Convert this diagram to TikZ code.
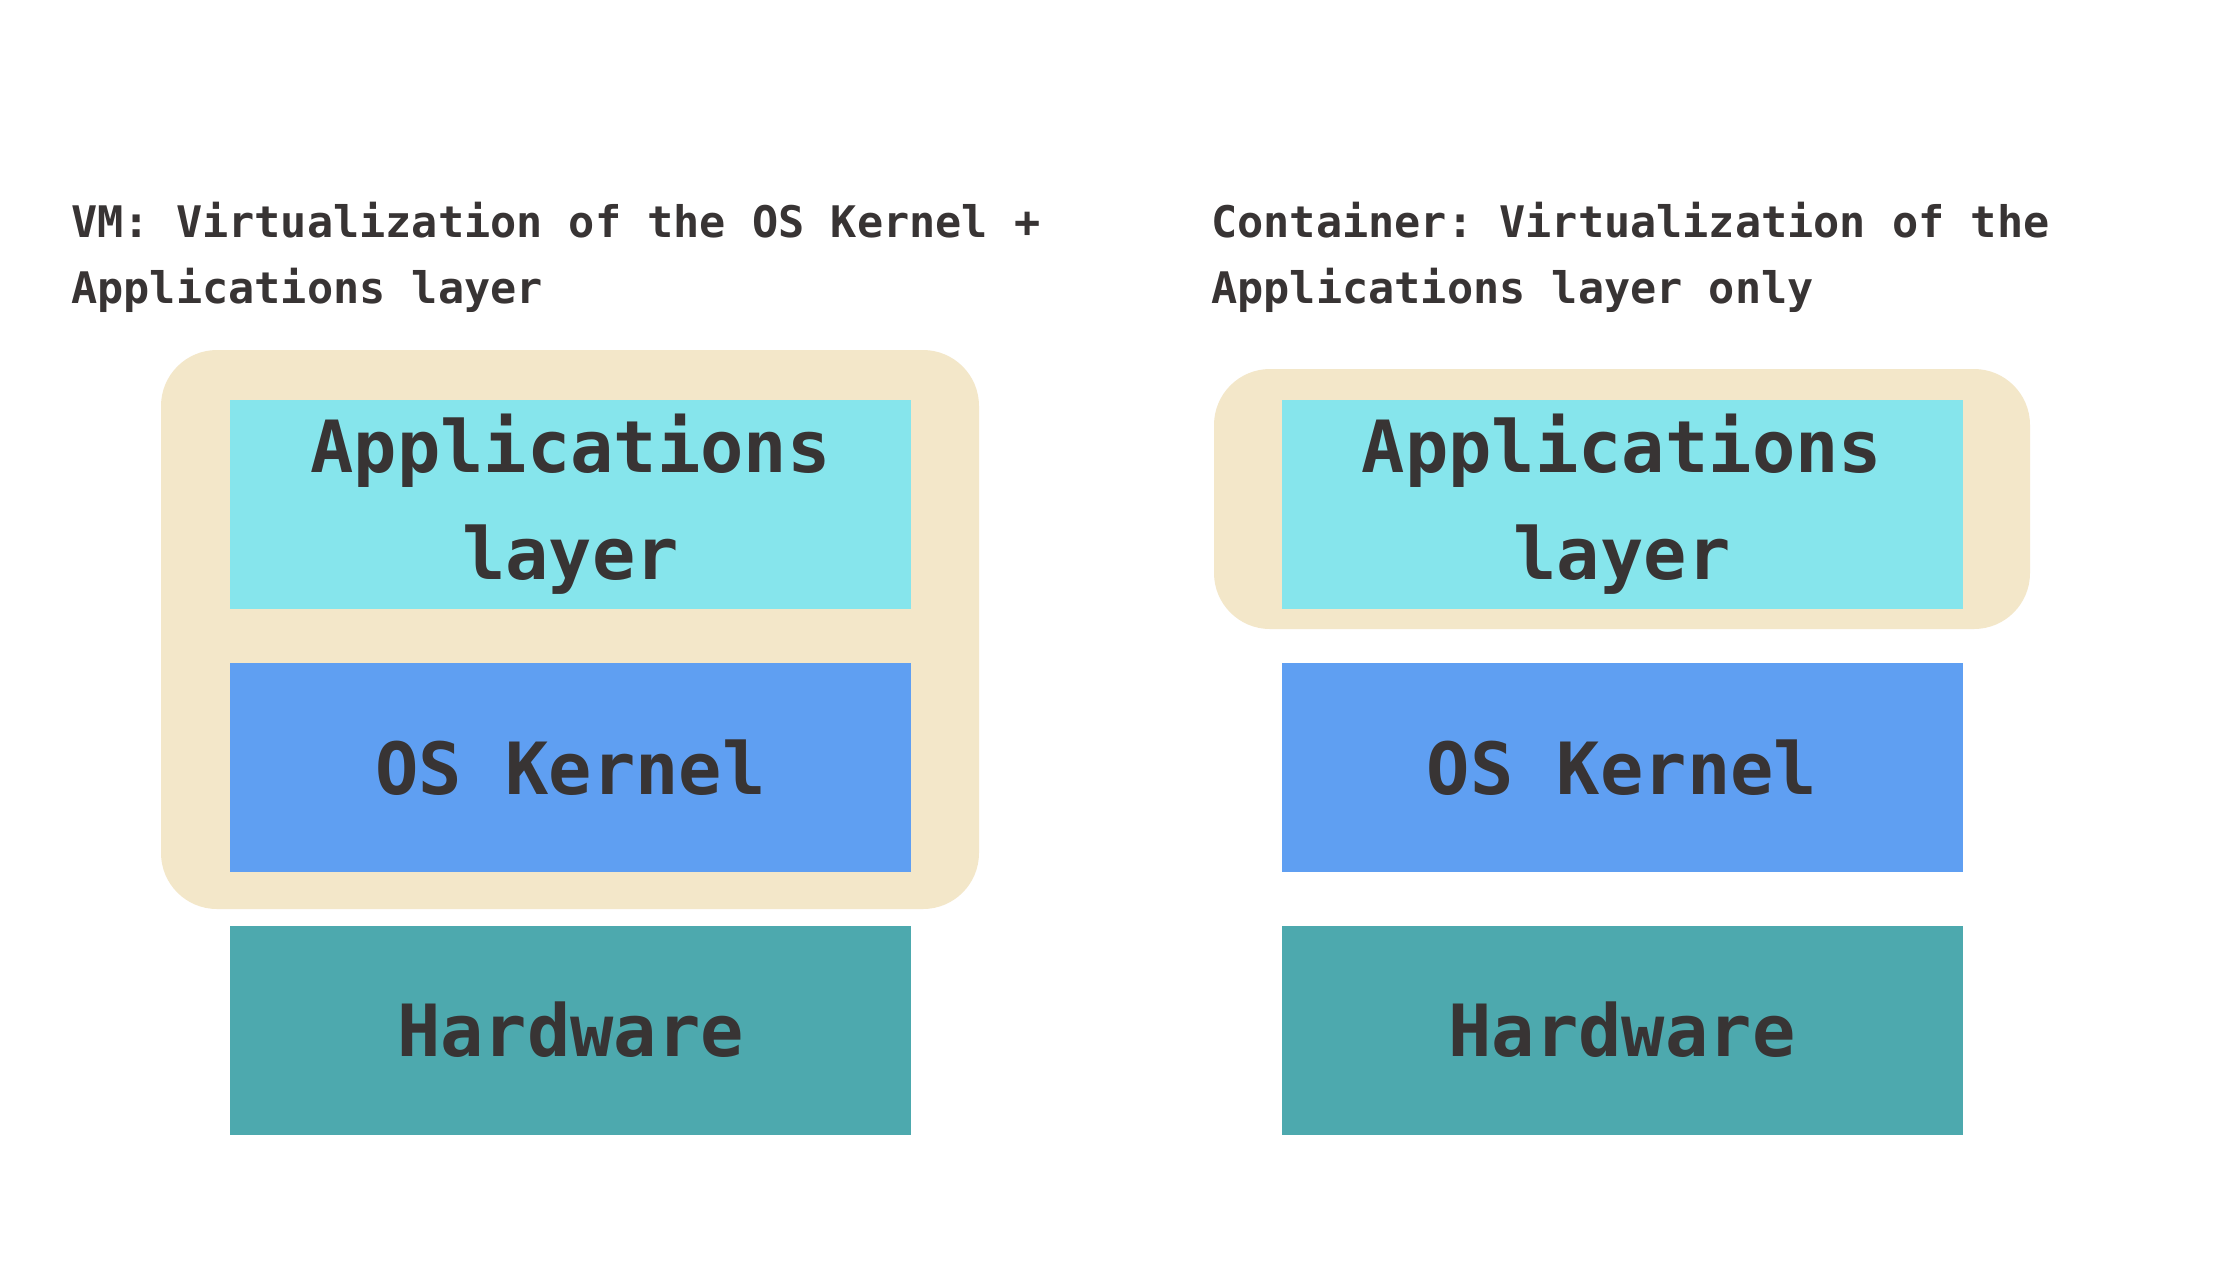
\documentclass[tikz,border=0pt]{standalone}
\usepackage{fontspec}
\setmonofont{DejaVu Sans Mono}
\usetikzlibrary{positioning}
\definecolor{shellbeige}{HTML}{F3E7C9}
\definecolor{appcyan}{HTML}{86E5EC}
\definecolor{kernelblue}{HTML}{5F9FF2}
\definecolor{hwteal}{HTML}{4DA9AE}
\definecolor{inkgray}{HTML}{383434}
\begin{document}
\begin{tikzpicture}[x=0.5pt, y=-0.5pt,
  layer/.style={minimum width=340.5pt, minimum height=104.5pt, inner sep=0pt,
    text=inkgray, align=center, font=\ttfamily\bfseries\fontsize{36}{53.5}\selectfont},
  caption/.style={anchor=base west, inner sep=0pt, text=inkgray, align=left,
    font=\ttfamily\bfseries\fontsize{21.75}{33}\selectfont}]
  \useasboundingbox[fill=white] (0,0) rectangle (2240,1260);

  % VM: the beige shell wraps kernel and applications
  \fill[shellbeige, rounded corners=28pt] (161,350) rectangle (979,909);
  \node[layer, fill=appcyan] (vmapp) at (570.5,504.5) {Applications\\layer};
  \node[layer, fill=kernelblue, below=26.5pt of vmapp] (vmkernel) {OS Kernel};
  \node[layer, fill=hwteal, below=26.5pt of vmkernel] (vmhw) {Hardware};
  % base anchor sits on the last line
  \node[caption] (vmtitle) at (71,303) {VM: Virtualization of the OS Kernel +\\Applications layer};

  % Container: the shell wraps the applications only
  \fill[shellbeige, rounded corners=28pt] (1214,369) rectangle (2030,629);
  \node[layer, fill=appcyan] (ctapp) at (1622,504.5) {Applications\\layer};
  \node[layer, fill=kernelblue, below=26.5pt of ctapp] (ctkernel) {OS Kernel};
  \node[layer, fill=hwteal, below=26.5pt of ctkernel] (cthw) {Hardware};
  \node[caption] (cttitle) at (1211,303) {Container: Virtualization of the\\Applications layer only};
\end{tikzpicture}
\end{document}
